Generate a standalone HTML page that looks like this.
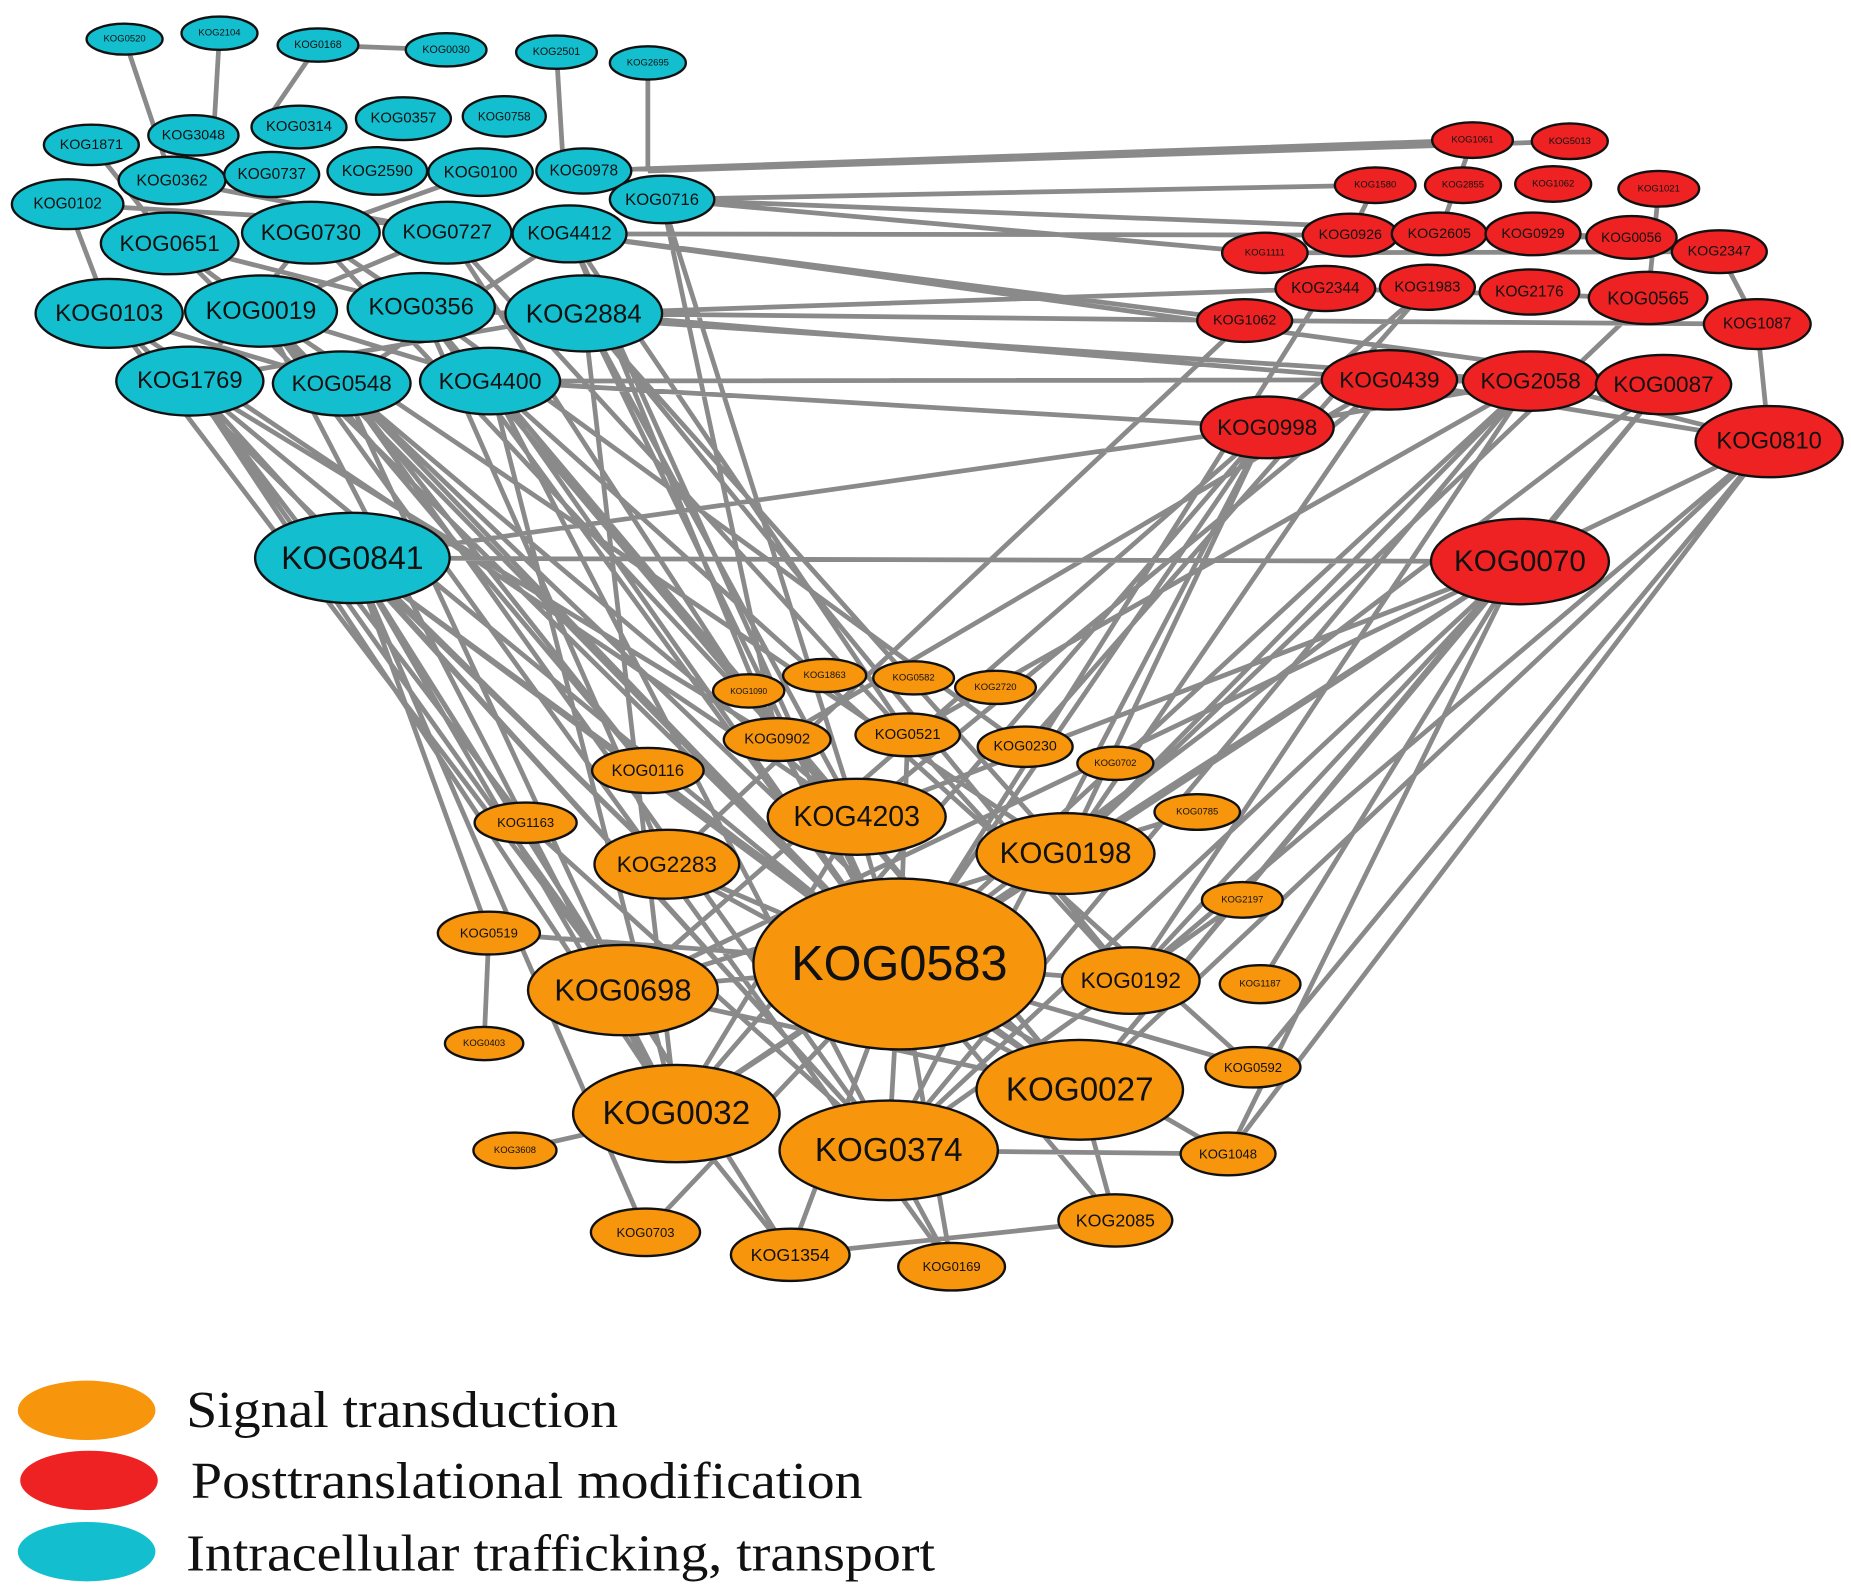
<!DOCTYPE html>
<html><head><meta charset="utf-8"><style>
html,body{margin:0;padding:0;background:#fff;}
svg{display:block}
.c{fill:#13bfcf;stroke:#111;stroke-width:2}
.r{fill:#ee2222;stroke:#111;stroke-width:2}
.o{fill:#f7950c;stroke:#111;stroke-width:2}
text{font-family:"Liberation Sans",Arial,sans-serif;text-anchor:middle;dominant-baseline:central;fill:#111}
.lg{font-family:"Liberation Serif",serif;text-anchor:start;dominant-baseline:auto;font-size:44px}
</style></head><body>
<svg width="1851" height="1592" viewBox="0 0 1560 1341" preserveAspectRatio="none" xmlns="http://www.w3.org/2000/svg">
<path fill="none" stroke="#8a8a8a" stroke-width="4" d="
M492 144L1241 118M558 168L1159 156M558 168L1066 213M480 197L1138 198M480 197L1049 270M492 264L1049 270M492 264L1117 243M413 321L1171 320M492 264L1171 320M297 470L1281 473M297 470L1068 360M413 321L1068 360M355 259L1290 321M558 168L1375 200M480 197L1402 324M546 144L1323 119
M105 33L145 152M185 28L180 114M268 38L229 95M268 38L376 42M469 44L475 144M546 53L546 144M57 172L92 264
M143 205L220 262M262 196L355 259M143 205L355 259M92 264L288 323M220 262L413 321M160 321L492 264M262 196L160 321M377 196L220 262M480 197L288 323M145 152L377 196M405 145L262 196M77 122L143 205M57 172L480 197
M160 321L758 812M160 321L525 834M160 321L570 938M220 262L758 812M288 323L749 969M288 323L722 688M413 321L758 812M413 321L910 918M492 264L898 719M492 264L758 812M297 470L758 812M297 470L570 938M297 470L749 969M297 470L544 1038M297 470L666 1057M297 470L562 728M355 259L562 728M92 264L525 834M92 264L722 688M480 197L655 623M558 168L722 688M377 196L953 826M413 321L1056 899M160 321L443 693M220 262L802 1067M288 323L910 918M480 197L765 619M297 470L412 786M220 262L546 649
M160 321L749 969M160 321L655 623M220 262L570 938M220 262L898 719M288 323L525 834M288 323L758 812M288 323L546 649M355 259L758 812M355 259L910 918M413 321L722 688M413 321L570 938M413 321L749 969M492 264L570 938M492 264L722 688M492 264L953 826M480 197L758 812M558 168L655 623M297 470L910 918M297 470L525 834M92 264L562 728M143 205L758 812M262 196L722 688M377 196L655 623M355 259L864 629
M1281 473L758 812M1281 473L898 719M1281 473L910 918M1281 473L953 826M1281 473L1035 972M1281 473L722 688M1281 473L570 938M1068 360L758 812M1068 360L525 834M1171 320L655 623M1171 320L722 688M1290 321L898 719M1290 321L749 969M1402 324L910 918M1491 372L1281 473M1491 372L1035 972M1491 372L1056 899M1491 372L953 826M1049 270L562 728M1117 243L758 812M1203 242L864 629M1389 251L898 719M1281 473L1062 829M1402 324L1281 473M1171 320L1491 372M1068 360L570 938M1290 321L765 619
M1281 473L749 969M1281 473L525 834M1068 360L898 719M1068 360L749 969M1290 321L953 826M1290 321L758 812M1402 324L758 812M1171 320L898 719M1491 372L910 918
M1066 213L1449 212M1117 243L1389 251M1049 270L1481 273M1171 320L1402 324M1068 360L1290 321M1138 198L1375 200M1159 156L1138 198M1241 118L1213 197M1398 159L1389 251M1449 212L1481 273M1481 273L1491 372M1290 321L1491 372M1203 242L1068 360
M758 812L525 834M758 812L570 938M758 812L749 969M758 812L910 918M758 812L953 826M758 812L898 719M758 812L722 688M758 812L562 728M758 812L666 1057M758 812L802 1067M758 812L940 1028M758 812L544 1038M758 812L412 786M758 812L546 649M758 812L655 623M758 812L765 619M758 812L1035 972M758 812L1056 899
M412 786L408 879M666 1057L940 1028M749 969L1035 972M570 938L434 969M443 693L749 969M525 834L910 918M570 938L898 719M1047 758L749 969M1009 684L525 834M562 728L910 918M722 688L570 938M570 938L666 1057M749 969L802 1067M910 918L940 1028"/>
<g>
<ellipse class="c" cx="105" cy="33" rx="32" ry="13"/><text x="105" y="33" font-size="8">KOG0520</text>
<ellipse class="c" cx="185" cy="28" rx="32" ry="14"/><text x="185" y="28" font-size="8">KOG2104</text>
<ellipse class="c" cx="268" cy="38" rx="34" ry="14"/><text x="268" y="38" font-size="9">KOG0168</text>
<ellipse class="c" cx="376" cy="42" rx="34" ry="14"/><text x="376" y="42" font-size="9">KOG0030</text>
<ellipse class="c" cx="469" cy="44" rx="34" ry="14"/><text x="469" y="44" font-size="9">KOG2501</text>
<ellipse class="c" cx="546" cy="53" rx="32" ry="14"/><text x="546" y="53" font-size="8">KOG2695</text>
<ellipse class="c" cx="77" cy="122" rx="40" ry="17"/><text x="77" y="122" font-size="12">KOG1871</text>
<ellipse class="c" cx="163" cy="114" rx="38" ry="17"/><text x="163" y="114" font-size="12">KOG3048</text>
<ellipse class="c" cx="252" cy="107" rx="40" ry="18"/><text x="252" y="107" font-size="12.5">KOG0314</text>
<ellipse class="c" cx="340" cy="100" rx="40" ry="18"/><text x="340" y="100" font-size="12.5">KOG0357</text>
<ellipse class="c" cx="425" cy="98" rx="35" ry="17"/><text x="425" y="98" font-size="10">KOG0758</text>
<ellipse class="c" cx="145" cy="152" rx="45" ry="20"/><text x="145" y="152" font-size="13.5">KOG0362</text>
<ellipse class="c" cx="229" cy="147" rx="40" ry="19"/><text x="229" y="147" font-size="13">KOG0737</text>
<ellipse class="c" cx="318" cy="144" rx="42" ry="20"/><text x="318" y="144" font-size="13.5">KOG2590</text>
<ellipse class="c" cx="405" cy="145" rx="44" ry="20"/><text x="405" y="145" font-size="14">KOG0100</text>
<ellipse class="c" cx="492" cy="144" rx="40" ry="19"/><text x="492" y="144" font-size="13">KOG0978</text>
<ellipse class="c" cx="57" cy="172" rx="47" ry="21"/><text x="57" y="172" font-size="13">KOG0102</text>
<ellipse class="c" cx="558" cy="168" rx="44" ry="20"/><text x="558" y="168" font-size="14">KOG0716</text>
<ellipse class="c" cx="143" cy="205" rx="58" ry="26"/><text x="143" y="205" font-size="19">KOG0651</text>
<ellipse class="c" cx="262" cy="196" rx="58" ry="26"/><text x="262" y="196" font-size="19">KOG0730</text>
<ellipse class="c" cx="377" cy="196" rx="54" ry="26"/><text x="377" y="196" font-size="17">KOG0727</text>
<ellipse class="c" cx="480" cy="197" rx="48" ry="24"/><text x="480" y="197" font-size="16">KOG4412</text>
<ellipse class="c" cx="92" cy="264" rx="62" ry="29"/><text x="92" y="264" font-size="20.5">KOG0103</text>
<ellipse class="c" cx="220" cy="262" rx="64" ry="30"/><text x="220" y="262" font-size="21">KOG0019</text>
<ellipse class="c" cx="355" cy="259" rx="62" ry="29"/><text x="355" y="259" font-size="20">KOG0356</text>
<ellipse class="c" cx="492" cy="264" rx="66" ry="32"/><text x="492" y="264" font-size="22">KOG2884</text>
<ellipse class="c" cx="160" cy="321" rx="62" ry="29"/><text x="160" y="321" font-size="20">KOG1769</text>
<ellipse class="c" cx="288" cy="323" rx="58" ry="27"/><text x="288" y="323" font-size="19">KOG0548</text>
<ellipse class="c" cx="413" cy="321" rx="59" ry="28"/><text x="413" y="321" font-size="19.5">KOG4400</text>
<ellipse class="c" cx="297" cy="470" rx="82" ry="38"/><text x="297" y="470" font-size="27">KOG0841</text>

<ellipse class="r" cx="1241" cy="118" rx="34" ry="15"/><text x="1241" y="118" font-size="8">KOG1061</text>
<ellipse class="r" cx="1323" cy="119" rx="32" ry="15"/><text x="1323" y="119" font-size="8">KOG5013</text>
<ellipse class="r" cx="1159" cy="156" rx="34" ry="15"/><text x="1159" y="156" font-size="8">KOG1580</text>
<ellipse class="r" cx="1233" cy="156" rx="32" ry="15"/><text x="1233" y="156" font-size="8">KOG2855</text>
<ellipse class="r" cx="1309" cy="155" rx="32" ry="15"/><text x="1309" y="155" font-size="8">KOG1062</text>
<ellipse class="r" cx="1398" cy="159" rx="34" ry="15"/><text x="1398" y="159" font-size="8">KOG1021</text>
<ellipse class="r" cx="1066" cy="213" rx="36" ry="17"/><text x="1066" y="213" font-size="8">KOG1111</text>
<ellipse class="r" cx="1138" cy="198" rx="40" ry="18"/><text x="1138" y="198" font-size="12">KOG0926</text>
<ellipse class="r" cx="1213" cy="197" rx="40" ry="18"/><text x="1213" y="197" font-size="12">KOG2605</text>
<ellipse class="r" cx="1292" cy="197" rx="40" ry="18"/><text x="1292" y="197" font-size="12">KOG0929</text>
<ellipse class="r" cx="1375" cy="200" rx="38" ry="18"/><text x="1375" y="200" font-size="11.5">KOG0056</text>
<ellipse class="r" cx="1449" cy="212" rx="40" ry="18"/><text x="1449" y="212" font-size="12">KOG2347</text>
<ellipse class="r" cx="1117" cy="243" rx="42" ry="19"/><text x="1117" y="243" font-size="13">KOG2344</text>
<ellipse class="r" cx="1203" cy="242" rx="40" ry="19"/><text x="1203" y="242" font-size="12.5">KOG1983</text>
<ellipse class="r" cx="1289" cy="246" rx="42" ry="19"/><text x="1289" y="246" font-size="13">KOG2176</text>
<ellipse class="r" cx="1389" cy="251" rx="50" ry="22"/><text x="1389" y="251" font-size="15.5">KOG0565</text>
<ellipse class="r" cx="1049" cy="270" rx="40" ry="18"/><text x="1049" y="270" font-size="12">KOG1062</text>
<ellipse class="r" cx="1481" cy="273" rx="45" ry="21"/><text x="1481" y="273" font-size="13">KOG1087</text>
<ellipse class="r" cx="1171" cy="320" rx="57" ry="25"/><text x="1171" y="320" font-size="19">KOG0439</text>
<ellipse class="r" cx="1290" cy="321" rx="57" ry="25"/><text x="1290" y="321" font-size="19">KOG2058</text>
<ellipse class="r" cx="1402" cy="324" rx="57" ry="25"/><text x="1402" y="324" font-size="19">KOG0087</text>
<ellipse class="r" cx="1068" cy="360" rx="56" ry="26"/><text x="1068" y="360" font-size="19">KOG0998</text>
<ellipse class="r" cx="1491" cy="372" rx="62" ry="30"/><text x="1491" y="372" font-size="20">KOG0810</text>
<ellipse class="r" cx="1281" cy="473" rx="75" ry="36"/><text x="1281" y="473" font-size="25">KOG0070</text>

<ellipse class="o" cx="631" cy="582" rx="30" ry="14"/><text x="631" y="582" font-size="7">KOG1090</text>
<ellipse class="o" cx="695" cy="569" rx="35" ry="14"/><text x="695" y="569" font-size="8">KOG1863</text>
<ellipse class="o" cx="770" cy="571" rx="34" ry="14"/><text x="770" y="571" font-size="8">KOG0582</text>
<ellipse class="o" cx="839" cy="579" rx="34" ry="14"/><text x="839" y="579" font-size="8">KOG2720</text>
<ellipse class="o" cx="655" cy="623" rx="45" ry="18"/><text x="655" y="623" font-size="12.5">KOG0902</text>
<ellipse class="o" cx="765" cy="619" rx="44" ry="18"/><text x="765" y="619" font-size="12.5">KOG0521</text>
<ellipse class="o" cx="864" cy="629" rx="40" ry="17"/><text x="864" y="629" font-size="12">KOG0230</text>
<ellipse class="o" cx="940" cy="643" rx="32" ry="14"/><text x="940" y="643" font-size="8">KOG0702</text>
<ellipse class="o" cx="546" cy="649" rx="47" ry="19"/><text x="546" y="649" font-size="14">KOG0116</text>
<ellipse class="o" cx="443" cy="693" rx="43" ry="17"/><text x="443" y="693" font-size="11">KOG1163</text>
<ellipse class="o" cx="1009" cy="684" rx="36" ry="15"/><text x="1009" y="684" font-size="8">KOG0785</text>
<ellipse class="o" cx="722" cy="688" rx="75" ry="32"/><text x="722" y="688" font-size="24">KOG4203</text>
<ellipse class="o" cx="898" cy="719" rx="75" ry="34"/><text x="898" y="719" font-size="25">KOG0198</text>
<ellipse class="o" cx="562" cy="728" rx="61" ry="29"/><text x="562" y="728" font-size="19">KOG2283</text>
<ellipse class="o" cx="1047" cy="758" rx="34" ry="15"/><text x="1047" y="758" font-size="8">KOG2197</text>
<ellipse class="o" cx="412" cy="786" rx="43" ry="18"/><text x="412" y="786" font-size="11">KOG0519</text>
<ellipse class="o" cx="758" cy="812" rx="123" ry="72"/><text x="758" y="812" font-size="41">KOG0583</text>
<ellipse class="o" cx="525" cy="834" rx="80" ry="38"/><text x="525" y="834" font-size="26">KOG0698</text>
<ellipse class="o" cx="953" cy="826" rx="58" ry="28"/><text x="953" y="826" font-size="19">KOG0192</text>
<ellipse class="o" cx="1062" cy="829" rx="34" ry="16"/><text x="1062" y="829" font-size="8">KOG1187</text>
<ellipse class="o" cx="408" cy="879" rx="33" ry="14"/><text x="408" y="879" font-size="8">KOG0403</text>
<ellipse class="o" cx="910" cy="918" rx="87" ry="42"/><text x="910" y="918" font-size="28">KOG0027</text>
<ellipse class="o" cx="1056" cy="899" rx="40" ry="17"/><text x="1056" y="899" font-size="11">KOG0592</text>
<ellipse class="o" cx="570" cy="938" rx="87" ry="41"/><text x="570" y="938" font-size="28">KOG0032</text>
<ellipse class="o" cx="749" cy="969" rx="92" ry="42"/><text x="749" y="969" font-size="28">KOG0374</text>
<ellipse class="o" cx="434" cy="969" rx="35" ry="15"/><text x="434" y="969" font-size="8">KOG3608</text>
<ellipse class="o" cx="1035" cy="972" rx="40" ry="18"/><text x="1035" y="972" font-size="11">KOG1048</text>
<ellipse class="o" cx="940" cy="1028" rx="48" ry="22"/><text x="940" y="1028" font-size="15">KOG2085</text>
<ellipse class="o" cx="544" cy="1038" rx="46" ry="20"/><text x="544" y="1038" font-size="11">KOG0703</text>
<ellipse class="o" cx="666" cy="1057" rx="50" ry="22"/><text x="666" y="1057" font-size="15">KOG1354</text>
<ellipse class="o" cx="802" cy="1067" rx="45" ry="20"/><text x="802" y="1067" font-size="11">KOG0169</text>
</g>
<ellipse cx="73" cy="1188" rx="58" ry="25" fill="#f7950c"/>
<ellipse cx="75" cy="1247" rx="58" ry="25" fill="#ee2222"/>
<ellipse cx="73" cy="1307" rx="58" ry="25" fill="#13bfcf"/>
<text class="lg" x="157" y="1202" textLength="364" lengthAdjust="spacingAndGlyphs">Signal transduction</text>
<text class="lg" x="161" y="1262" textLength="566" lengthAdjust="spacingAndGlyphs">Posttranslational modification</text>
<text class="lg" x="157" y="1323" textLength="631" lengthAdjust="spacingAndGlyphs">Intracellular trafficking, transport</text>
</svg>
</body></html>
